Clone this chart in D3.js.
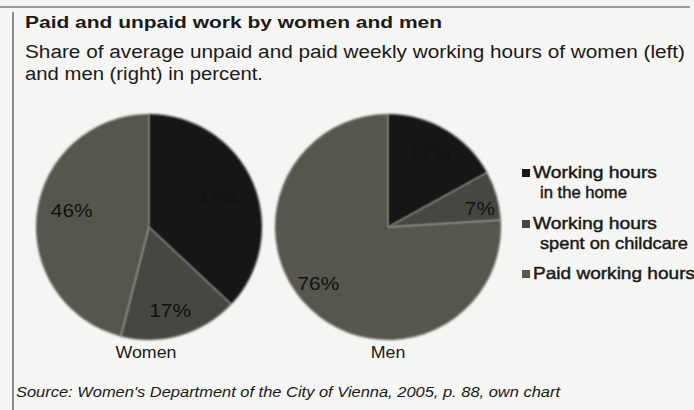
<!DOCTYPE html>
<html>
<head>
<meta charset="utf-8">
<script src="https://cdn.jsdelivr.net/npm/d3@7"></script>
<style>
  body { margin: 0; background: #f5f5f3; }
  text { font-family: "Liberation Sans", Arial, sans-serif; fill: #1a1a1a; }
  .heavy { stroke: #1a1a1a; stroke-width: 0.45px; }
</style>
</head>
<body>
<div id="chart"></div>
<script>
var categories = ["Working hours in the home", "Working hours spent on childcare", "Paid working hours"];
var legendLines = [["Working hours", "in the home"], ["Working hours", "spent on childcare"], ["Paid working hours"]];
var groups = ["Women", "Men"];
var women = [37, 17, 46];
var men = [17, 7, 76];

var width = 694, height = 410;

var color = d3.scaleOrdinal()
  .domain(categories)
  .range(["#171716", "#474743", "#57574f"]);

var svg = d3.select("#chart").append("svg")
  .attr("width", width)
  .attr("height", height);

// soft edge like the scan
var defs = svg.append("defs");
defs.append("filter").attr("id", "soft")
  .attr("x", "-10%").attr("y", "-10%").attr("width", "120%").attr("height", "120%")
  .append("feGaussianBlur").attr("stdDeviation", 1.2);

// frame
svg.append("line").attr("x1", 0).attr("x2", 690).attr("y1", 7).attr("y2", 7)
  .attr("stroke", "#444").attr("stroke-width", 1.2);
svg.append("line").attr("x1", 13).attr("x2", 13).attr("y1", 12).attr("y2", height)
  .attr("stroke", "#444").attr("stroke-width", 1.2);

// the scan is stretched sideways, so the texts get a fixed length
function stretchText(x, y, str, size, len) {
  return svg.append("text").attr("x", x).attr("y", y)
    .style("font-size", size + "px")
    .attr("textLength", len)
    .attr("lengthAdjust", "spacingAndGlyphs")
    .text(str);
}

stretchText(25, 28, "Paid and unpaid work by women and men", 16, 417).style("font-weight", "bold");
stretchText(25, 58, "Share of average unpaid and paid weekly working hours of women (left)", 18, 660);
stretchText(25, 80, "and men (right) in percent.", 18, 238);

var pie = d3.pie().sort(null).value(function(d) { return d; });
var radius = 113;
var arc = d3.arc().innerRadius(0).outerRadius(radius);

var pies = [
  {name: groups[0], values: women, cx: 149, cy: 227, labelX: 146},
  {name: groups[1], values: men, cx: 388, cy: 227, labelX: 388}
];

// label radius factors and small angle shifts
var labelPos = {
  Women: [{r: 0.66, da: 0.0}, {r: 0.76, da: 0.035}, {r: 0.70, da: 0.09}],
  Men:   [{r: 0.76, da: -0.024}, {r: 0.83, da: 0.08}, {r: 0.79, da: 0.14}]
};

pies.forEach(function(p) {
  var g = svg.append("g").attr("transform", "translate(" + p.cx + "," + p.cy + ")");
  var arcs = pie(p.values);
  g.selectAll("path").data(arcs).enter().append("path")
    .attr("d", arc)
    .attr("fill", function(d, i) { return color(categories[i]); })
    .attr("filter", "url(#soft)");

  g.selectAll("text.pct").data(arcs).enter().append("text")
    .attr("class", "pct")
    .attr("text-anchor", "middle")
    .attr("dy", "0.36em")
    .style("font-size", "19px")
    .style("fill", "#111")
    .attr("transform", function(d, i) {
      var lp = labelPos[p.name][i];
      var a = (d.startAngle + d.endAngle) / 2 + lp.da;
      var r = radius * lp.r;
      return "translate(" + (Math.sin(a) * r) + "," + (-Math.cos(a) * r) + ") scale(1.1,1)";
    })
    .text(function(d) { return d.data + "%"; });

  svg.append("text")
    .attr("x", p.labelX).attr("y", 358)
    .attr("text-anchor", "middle")
    .style("font-size", "16.5px")
    .attr("transform", "translate(" + p.labelX + ",0) scale(1.08,1) translate(" + (-p.labelX) + ",0)")
    .text(p.name);
});

// legend
var lineTops = [178, 229, 279];
var lineLens = [[124, 87], [124, 148], [162]];
categories.forEach(function(c, i) {
  var y = lineTops[i];
  svg.append("rect")
    .attr("x", 522).attr("y", y - 9).attr("width", 8).attr("height", 8)
    .attr("fill", color(c));
  legendLines[i].forEach(function(line, j) {
    stretchText(j === 0 ? 533 : 540, y + j * 20, line, 16.5, lineLens[i][j])
      .attr("class", "heavy");
  });
});

stretchText(16, 397, "Source: Women's Department of the City of Vienna, 2005, p. 88, own chart", 14.5, 544)
  .style("font-style", "italic");
</script>
</body>
</html>
